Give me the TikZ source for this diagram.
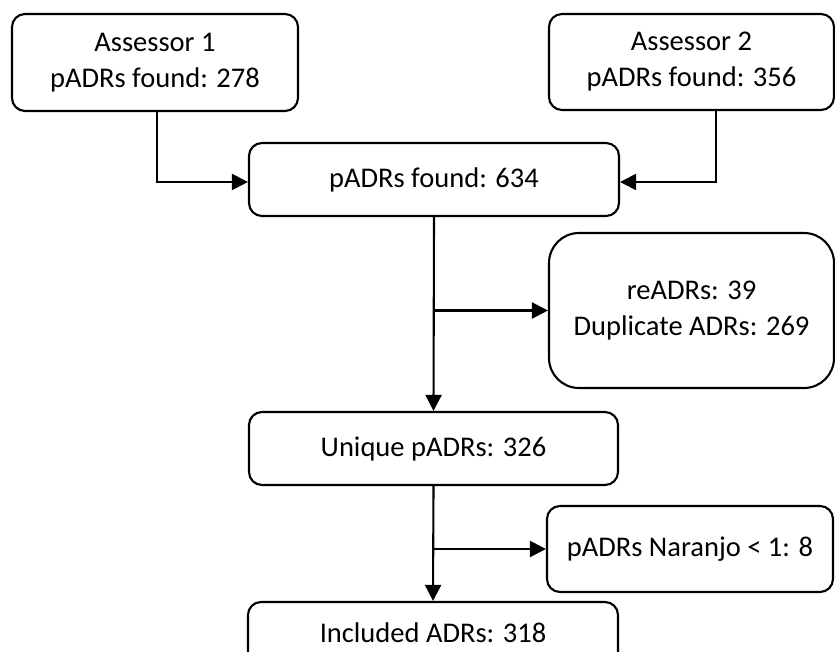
\documentclass[tikz,border=0pt]{standalone}
\usepackage{fontspec}
\setmainfont{Carlito}
\usetikzlibrary{arrows.meta}
\begin{document}
\begin{tikzpicture}[x=1pt,y=-1pt,
  box/.style={draw=black, line width=2.1pt, rounded corners=13pt, inner sep=0pt, align=center,
    font=\fontsize{28.5}{36}\selectfont, text=black},
  conn/.style={line width=2.1pt, -{Triangle[length=16pt,width=16pt]}}]
\useasboundingbox (0,0) rectangle (835,652);
\clip (0,0) rectangle (835,652);
\node[box, minimum width=286pt, minimum height=97pt] (a1) at (155,62.5) {Assessor 1\\pADRs found: 278};
\node[box, minimum width=285pt, minimum height=96pt] (a2) at (691.5,62) {Assessor 2\\pADRs found: 356};
\node[box, minimum width=370pt, minimum height=73pt] (p) at (434,179.5) {pADRs found: 634};
\node[box, rounded corners=30pt, minimum width=285pt, minimum height=155pt] (r) at (691.5,310.5) {reADRs: 39\\Duplicate ADRs: 269};
\node[box, minimum width=369pt, minimum height=73pt] (u) at (433.5,448.5) {Unique pADRs: 326};
\node[box, minimum width=286pt, minimum height=86pt] (n) at (690,549) {pADRs Naranjo < 1: 8};
\node[box, minimum width=370pt, minimum height=73pt] (i) at (433,638.5) {};
\node[font=\fontsize{28.5}{36}\selectfont, text=black, anchor=base] (it) at (433,642) {Included ADRs: 318};
\draw[conn] ([xshift=2pt]a1.south) |- ([yshift=-2.5pt]p.west);
\draw[conn] ([xshift=24.5pt]a2.south) |- ([yshift=-2.5pt]p.east);
\draw[conn] (p.south) -- (u.north);
\coordinate (b1) at (p.south |- r.west);
\draw[conn] (b1) -- (r.west);
\draw[conn] (u.south) -- (i.north);
\coordinate (b2) at (u.south |- n.west);
\draw[conn] (b2) -- (n.west);
\end{tikzpicture}
\end{document}
